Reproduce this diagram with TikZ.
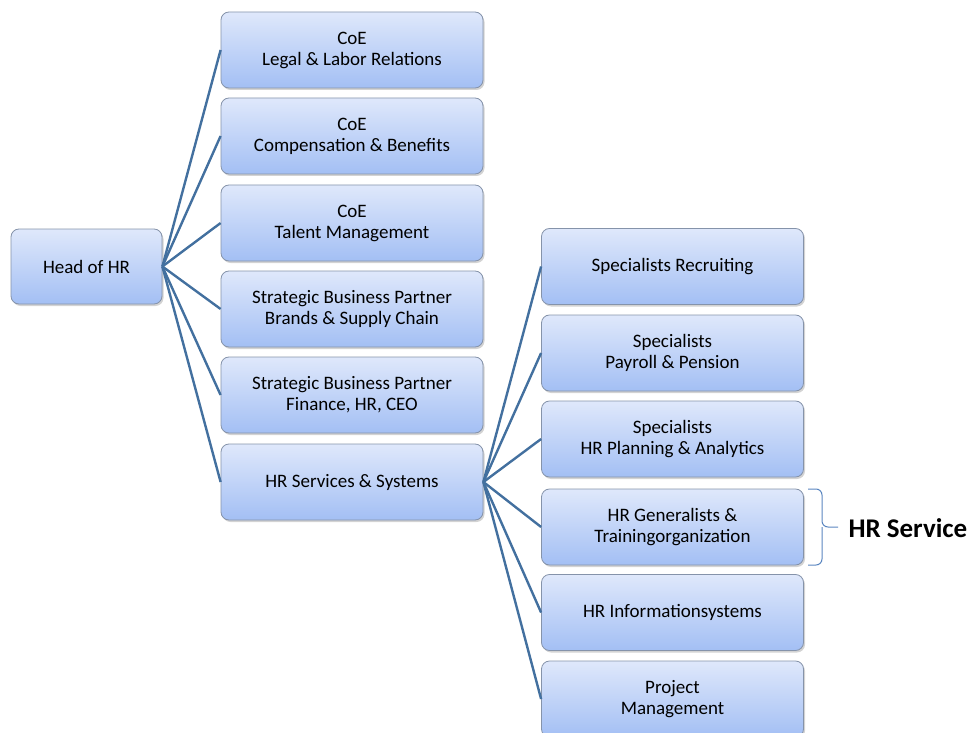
\documentclass[tikz,border=0pt]{standalone}
\usepackage{fontspec}
\setmainfont{Carlito}
\usetikzlibrary{shadows}
\definecolor{boxtop}{HTML}{DFE8FB}
\definecolor{boxbot}{HTML}{A3BFF4}
\definecolor{boxedge}{HTML}{8593AA}
\definecolor{linkcol}{HTML}{43709F}
\definecolor{bracecol}{HTML}{5A86C0}
\tikzset{
  unit/.style={draw=boxedge, line width=0.8pt, rounded corners=8pt,
    top color=boxtop, bottom color=boxbot,
    minimum width=262pt, minimum height=76pt, align=center,
    font=\fontsize{19}{21}\selectfont, text=black,
    drop shadow={shadow xshift=1.5pt, shadow yshift=-2pt, opacity=0.35, fill=gray}},
  link/.style={draw=linkcol, line width=2.4pt},
  bracket/.style={draw=bracecol, line width=1pt, rounded corners=6pt}
}
\begin{document}
\begin{tikzpicture}[x=1pt,y=-1pt]
\useasboundingbox (0,0) rectangle (970,733);
\clip (0,0) rectangle (970,733);
% root
\node[unit, minimum width=151pt, minimum height=75pt] (head) at (86.5,266.5) {Head of HR};
% first level
\node[unit] (legal) at (352,50) {CoE\\Legal \& Labor Relations};
\node[unit] (comp)  at (352,136) {CoE\\Compensation \& Benefits};
\node[unit] (talent) at (352,223) {CoE\\Talent Management};
\node[unit] (sbpbrands) at (352,309) {Strategic Business Partner\\Brands \& Supply Chain};
\node[unit] (sbpfin) at (352,395) {Strategic Business Partner\\Finance, HR, CEO};
\node[unit] (services) at (352,482) {HR Services \& Systems};
% second level
\node[unit] (recruit) at (672.5,266.5) {Specialists Recruiting};
\node[unit] (payroll) at (672.5,353) {Specialists\\Payroll \& Pension};
\node[unit] (planning) at (672.5,439) {Specialists\\HR Planning \& Analytics};
\node[unit] (general) at (672.5,527) {HR Generalists \&\\Trainingorganization};
\node[unit] (infosys) at (672.5,612.5) {HR Informationsystems};
\node[unit] (project) at (672.5,699) {Project\\Management};
% connectors
\foreach \n in {legal,comp,talent,sbpbrands,sbpfin,services}
  \draw[link] (head.east) -- (\n.west);
\foreach \n in {recruit,payroll,planning,general,infosys,project}
  \draw[link] (services.east) -- (\n.west);
% bracket around the generalists box
\coordinate (bt) at (808,489);
\coordinate (bm) at (822,527);
\coordinate (btip) at (838,527);
\coordinate (bb) at (808,565);
\draw[bracket] (bt) -| (bm) -- (btip);
\draw[bracket] (bb) -| (bm);
\node[font=\fontsize{27}{30}\selectfont\bfseries, anchor=west] (hrservice) at (845,528) {HR Service};
\end{tikzpicture}
\end{document}
